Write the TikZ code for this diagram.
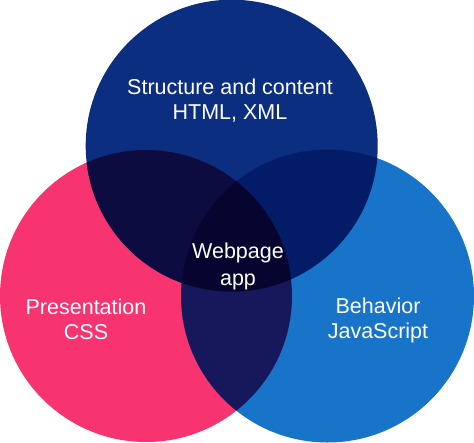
\documentclass[tikz,border=0pt]{standalone}
\usepackage{fontspec}
\setmainfont{Liberation Sans}
\definecolor{navy}{HTML}{0B2E80}
\definecolor{pinkc}{HTML}{F73370}
\definecolor{bluec}{HTML}{1774C9}
\definecolor{tl}{HTML}{0C0C40}
\definecolor{tr}{HTML}{041C68}
\definecolor{lr}{HTML}{17185C}
\definecolor{ctr}{HTML}{050530}
\begin{document}
\begin{tikzpicture}[x=1pt,y=-1pt,
  lbl/.style={text=white,anchor=base,inner sep=0pt,font=\fontsize{21.5}{25}\selectfont}]
\useasboundingbox (0,0) rectangle (474,442);
\coordinate (T) at (231.7,145.7);
\coordinate (L) at (146,296);
\coordinate (R) at (327.5,296);
\def\rT{146}\def\rL{146}\def\rR{146.5}
\fill[pinkc] (L) circle (\rL);
\fill[bluec] (R) circle (\rR);
\fill[navy] (T) circle (\rT);
\begin{scope}
  \clip (T) circle (\rT);
  \fill[tl] (L) circle (\rL);
  \fill[tr] (R) circle (\rR);
  \clip (L) circle (\rL);
  \fill[ctr] (R) circle (\rR);
\end{scope}
\begin{scope}
  \clip (L) circle (\rL);
  \clip (R) circle (\rR);
  \fill[lr] (R) circle (\rR);
  \fill[ctr] (T) circle (\rT);
\end{scope}
\node[lbl] (s1) at (230,94.5) {Structure and content};
\node[lbl] (s2) at (230,119.5) {HTML, XML};
\node[lbl] (w1) at (238,258.5) {Webpage};
\node[lbl] (w2) at (238,285) {app};
\node[lbl] (p1) at (86,314) {Presentation};
\node[lbl] (p2) at (86,339.5) {CSS};
\node[lbl] (b1) at (378,313.5) {Behavior};
\node[lbl] (b2) at (378,338.5) {JavaScript};
\end{tikzpicture}
\end{document}
